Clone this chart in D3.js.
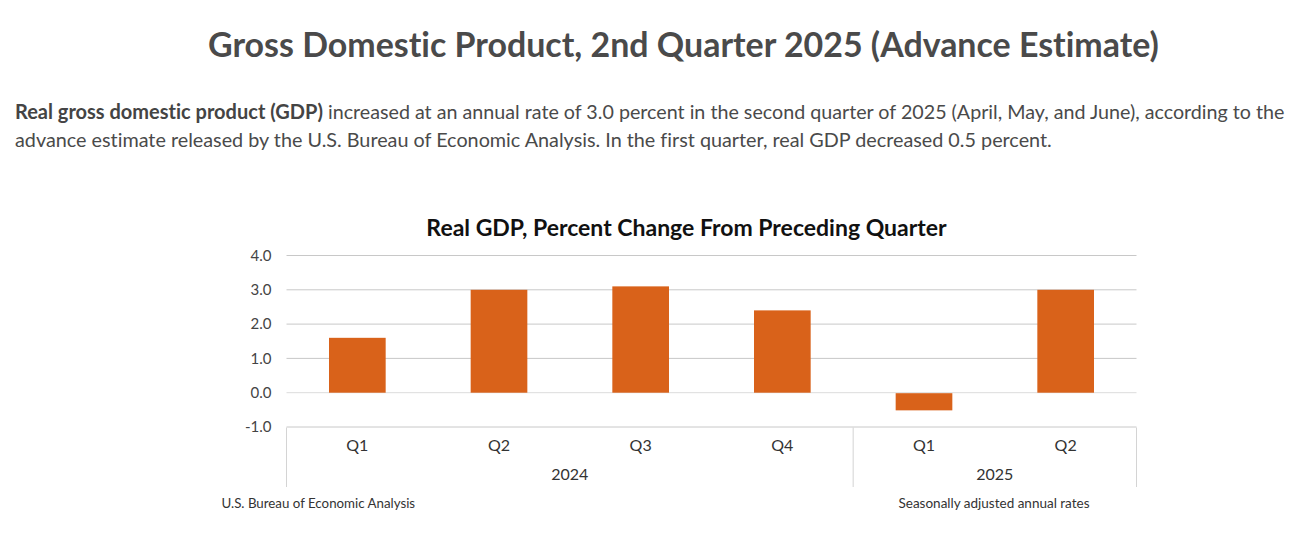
<!DOCTYPE html>
<html><head><meta charset="utf-8">
<script src="https://cdn.jsdelivr.net/npm/d3@7"></script>
<style>html,body{margin:0;padding:0;background:#fff}svg{display:block}text{font-family:Lato,sans-serif;font-variant-ligatures:none}</style>
</head><body><svg id="c" width="1311" height="542"></svg>
<script>
const quarters = ["Q1","Q2","Q3","Q4","Q1","Q2"];
const years = ["2024","2024","2024","2024","2025","2025"];
const values = [1.6,3.0,3.1,2.4,-0.5,3.0];
const yTicks = [-1,0,1,2,3,4];
const pageTitle = "Gross Domestic Product, 2nd Quarter 2025 (Advance Estimate)";
const chartTitle = "Real GDP, Percent Change From Preceding Quarter";
const leadBold = "Real gross domestic product (GDP)";
const leadRest = " increased at an annual rate of 3.0 percent in the second quarter of 2025 (April, May, and June), according to the";
const line2 = "advance estimate released by the U.S. Bureau of Economic Analysis. In the first quarter, real GDP decreased 0.5 percent.";
const sourceNote = "U.S. Bureau of Economic Analysis";
const rateNote = "Seasonally adjusted annual rates";

const svg = d3.select("#c");
const x = d3.scaleBand().domain(d3.range(values.length)).range([286.5,1136.5]).paddingInner(0.6).paddingOuter(0.3);
const band = d3.scaleBand().domain(d3.range(values.length)).range([286.5,1136.5]);
const y = d3.scaleLinear().domain([-1,4]).range([427,255.5]);
const tickText = d => d3.format(".1f")(d).replace("\u2212","-");

svg.append("text").attr("x",683.5).attr("y",56.5).attr("text-anchor","middle")
  .attr("font-size",33.95).attr("font-weight",700).attr("fill","#4a4a4a").text(pageTitle);
const p1 = svg.append("text").attr("x",15).attr("y",119).attr("font-size",19.7).attr("fill","#4a4a4a");
p1.append("tspan").attr("font-weight",700).attr("font-size",20).attr("fill","#444").text(leadBold);
p1.append("tspan").text(leadRest);
svg.append("text").attr("x",15).attr("y",147).attr("font-size",19.8).attr("fill","#4a4a4a").text(line2);
svg.append("text").attr("x",686.5).attr("y",236).attr("text-anchor","middle")
  .attr("font-size",23).attr("font-weight",700).attr("fill","#111").text(chartTitle);

const gy = svg.append("g").attr("transform","translate(286.5,0)")
  .call(d3.axisLeft(y).tickValues(yTicks).tickSize(0).tickPadding(15).tickFormat(tickText));
gy.select(".domain").remove();
gy.selectAll("text").attr("font-size",15).attr("fill","#444").style("font-family","Lato,sans-serif");
svg.append("g").selectAll("line").data(yTicks).join("line")
  .attr("x1",286.5).attr("x2",1136.5).attr("y1",d=>y(d)).attr("y2",d=>y(d))
  .attr("stroke",d=>d===0?"#dcdcdc":"#c8c8c8").attr("stroke-width",1);

svg.append("g").selectAll("rect").data(values).join("rect")
  .attr("x",(d,i)=>x(i)).attr("width",x.bandwidth())
  .attr("y",d=>d>=0?y(d):y(0)+0.5).attr("height",d=>Math.abs(y(d)-y(0)))
  .attr("fill","#d9621a");

svg.append("g").selectAll("text").data(quarters).join("text")
  .attr("x",(d,i)=>band(i)+band.bandwidth()/2).attr("y",451).attr("text-anchor","middle")
  .attr("font-size",16).attr("fill","#333").text(d=>d);

const yearNames = Array.from(new Set(years));
const spans = yearNames.map(n=>{const idx=d3.range(years.length).filter(i=>years[i]===n);
  return {n,a:band(idx[0]),b:band(idx[idx.length-1])+band.bandwidth()};});
svg.append("g").selectAll("text").data(spans).join("text")
  .attr("x",d=>(d.a+d.b)/2).attr("y",480).attr("text-anchor","middle")
  .attr("font-size",16).attr("fill","#333").text(d=>d.n);
const seps = Array.from(new Set(spans.flatMap(d=>[d.a,d.b])));
svg.append("g").selectAll("line").data(seps).join("line")
  .attr("x1",d=>d).attr("x2",d=>d).attr("y1",427.5).attr("y2",487)
  .attr("stroke","#d4d4d4").attr("stroke-width",1);

svg.append("text").attr("x",221.5).attr("y",508).attr("font-size",13.3).attr("fill","#333").text(sourceNote);
svg.append("text").attr("x",898.5).attr("y",508).attr("font-size",13.5).attr("fill","#333").text(rateNote);
</script></body></html>
